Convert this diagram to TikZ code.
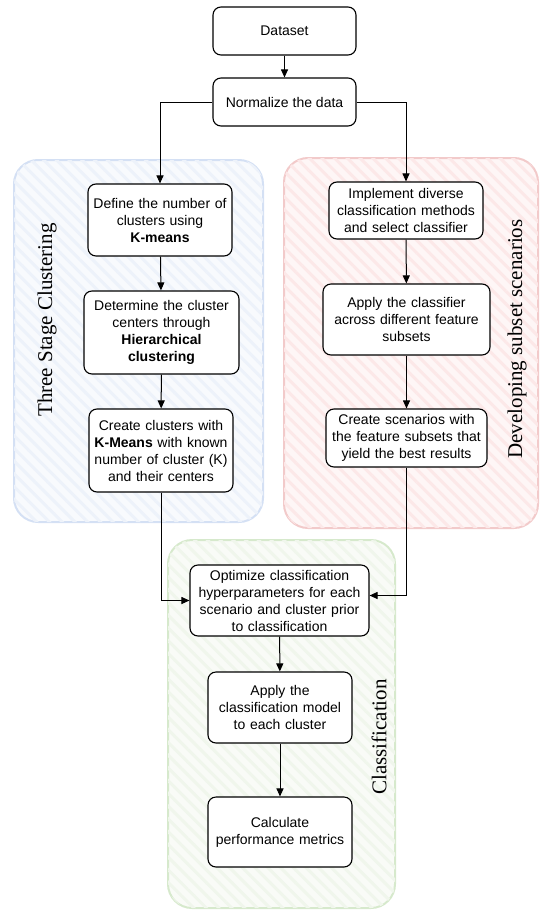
\documentclass[tikz,border=0pt]{standalone}
\usepackage{fontspec}
\setmainfont{Liberation Sans}
\newfontfamily\labelfont{Liberation Serif}
\usetikzlibrary{patterns.meta,arrows.meta}

\definecolor{blueline}{HTML}{D4E0F4}
\definecolor{bluehatch}{HTML}{EDF2FA}
\definecolor{redline}{HTML}{F2CACA}
\definecolor{redhatch}{HTML}{FCE8E8}
\definecolor{greenline}{HTML}{D6E9CC}
\definecolor{greenhatch}{HTML}{F0F6EC}

\begin{document}
\begin{tikzpicture}[x=1pt,y=-1pt,
    stepbox/.style={draw,fill=white,rounded corners=8pt,line width=1.1pt,align=center,
      font=\fontsize{14}{17}\selectfont,inner sep=2pt},
    stage/.style={draw=#1line,line width=2pt,rounded corners=24pt,fill=#1hatch!40,
      postaction={pattern={Lines[angle=-45,distance=9pt,line width=3pt]},pattern color=#1hatch}},
    stagelabel/.style={rotate=90,font=\labelfont\fontsize{21}{21}\selectfont},
    flow/.style={-{Triangle[length=8pt,width=7pt]},line width=1pt}]
    \useasboundingbox (0,0) rectangle (550,918);
    % containers
    \draw[stage=blue] (14,160) rectangle (263,522);
    \draw[stage=red] (284,158) rectangle (538,528);
    \draw[stage=green] (168,540) rectangle (395,908);
    \node[stagelabel] (L1) at (47,320) {Three Stage Clustering};
    \node[stagelabel] (L2) at (517,339) {Developing subset scenarios};
    \node[stagelabel] (L3) at (379,737) {Classification};
    % top
    \draw (284.5,31) node[stepbox,minimum width=143pt,minimum height=48pt] (D) {Dataset};
    \draw (284.5,102) node[stepbox,minimum width=143pt,minimum height=48pt] (N) {Normalize the data};
    % left branch
    \draw (160,220) node[stepbox,minimum width=144pt,minimum height=72pt,text width=140pt] (K1) {Define the number of\\clusters using\\\textbf{K-means}};
    \draw (161.5,332.5) node[stepbox,minimum width=155pt,minimum height=83pt,text width=150pt] (K2) {Determine the cluster\\centers through\\\textbf{Hierarchical}\\\textbf{clustering}};
    \draw (161,450.5) node[stepbox,minimum width=144pt,minimum height=83pt,text width=140pt] (K3) {Create clusters with\\\textbf{K-Means} with known\\number of cluster (K)\\and their centers};
    % right branch
    \draw (406,210.5) node[stepbox,minimum width=154pt,minimum height=57pt,text width=150pt] (S1) {Implement diverse\\classification methods\\and select classifier};
    \draw (406.5,319.5) node[stepbox,minimum width=167pt,minimum height=71pt,text width=163pt] (S2) {Apply the classifier\\across different feature\\subsets};
    \draw (406.5,438) node[stepbox,minimum width=161pt,minimum height=58pt,text width=157pt] (S3) {Create scenarios with\\the feature subsets that\\yield the best results};
    % bottom
    \draw (279.5,600.5) node[stepbox,minimum width=179pt,minimum height=71pt,text width=175pt] (C1) {Optimize classification\\hyperparameters for each\\scenario and cluster prior\\to classification};
    \draw (280,707.5) node[stepbox,minimum width=144pt,minimum height=71pt,text width=140pt] (C2) {Apply the\\classification model\\to each cluster};
    \draw (280,832) node[stepbox,minimum width=144pt,minimum height=70pt,text width=140pt] (C3) {Calculate\\performance metrics};
    % arrows
    \draw[flow] (D)--(N);
    \draw[flow] (N.west)-|(K1.north);
    \draw[flow] (N.east)-|(S1.north);
    \draw[flow] (K1)--(K2);
    \draw[flow] (K2)--(K3);
    \draw[flow] (S1)--(S2);
    \draw[flow] (S2)--(S3);
    \draw[flow] (K3.south)|-(C1.west);
    \draw[flow] (S3.south)|-([yshift=5pt]C1.east);
    \draw[flow] (C1)--(C2);
    \draw[flow] (C2)--(C3);
\end{tikzpicture}
\end{document}
